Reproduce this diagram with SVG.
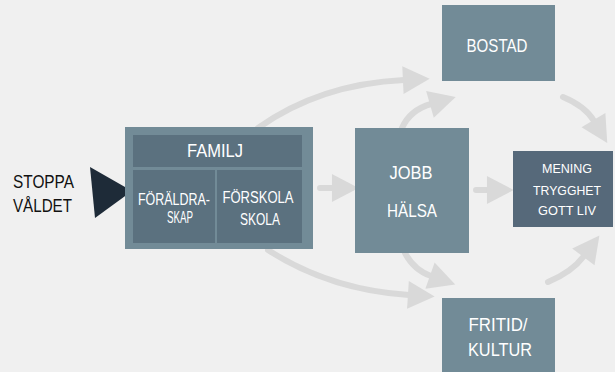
<svg xmlns="http://www.w3.org/2000/svg" width="615" height="372" viewBox="0 0 615 372">
<style>
.bg{fill:#f0f0f0}
.box{fill:#728b97}
.dark{fill:#56697a}
.inner{fill:#5b717f}
.arr{fill:none;stroke:#d9d9d9;stroke-width:6;stroke-linecap:round}
.t{font-family:"Liberation Sans","DejaVu Sans",sans-serif;fill:#ffffff;text-anchor:middle}
.tb{font-family:"Liberation Sans","DejaVu Sans",sans-serif;fill:#111111;text-anchor:start}
</style>
<defs>
<marker id="ah" markerUnits="userSpaceOnUse" markerWidth="30" markerHeight="30" viewBox="0 -14 26 28" refX="1" refY="0" orient="auto">
<path d="M0,-13 L25,0 L0,13 Z" fill="#d9d9d9"/>
</marker>
</defs>
<rect class="bg" x="0" y="0" width="615" height="372"/>
<g id="connectors">
<path class="arr" d="M258 128 Q320 84 404 80" marker-end="url(#ah)"/>
<path class="arr" d="M402 128 Q410 110 431 104" marker-end="url(#ah)"/>
<path class="arr" d="M563 97 Q585 106 594 121" marker-end="url(#ah)"/>
<path class="arr" d="M320 188 L333 188" marker-end="url(#ah)"/>
<path class="arr" d="M476 190 L488 190" marker-end="url(#ah)"/>
<path class="arr" d="M268 250 Q330 290 409 295" marker-end="url(#ah)"/>
<path class="arr" d="M405 253 Q414 270 431 276" marker-end="url(#ah)"/>
<path class="arr" d="M548 282 Q572 272 584 256" marker-end="url(#ah)"/>
</g>
<g id="stoppa">
<text class="tb" x="13" y="188" font-size="19" textLength="61" lengthAdjust="spacingAndGlyphs">STOPPA</text>
<text class="tb" x="13" y="212" font-size="19" textLength="59" lengthAdjust="spacingAndGlyphs">VÅLDET</text>
<path d="M90 167 L132 191 L95 218 Z" fill="#1e2b38"/>
</g>
<g id="familj">
<rect class="box" x="125" y="127" width="188" height="122"/>
<rect class="inner" x="133" y="135" width="169" height="32"/>
<rect class="inner" x="133" y="170" width="82" height="73"/>
<rect class="inner" x="217" y="170" width="85" height="73"/>
<text class="t" x="215" y="157" font-size="19" textLength="56" lengthAdjust="spacingAndGlyphs">FAMILJ</text>
<text class="t" x="174" y="205" font-size="16" textLength="72" lengthAdjust="spacingAndGlyphs">FÖRÄLDRA-</text>
<text class="t" x="180" y="223" font-size="16" textLength="26" lengthAdjust="spacingAndGlyphs">SKAP</text>
<text class="t" x="258" y="203" font-size="16" textLength="71" lengthAdjust="spacingAndGlyphs">FÖRSKOLA</text>
<text class="t" x="260" y="225" font-size="16" textLength="40" lengthAdjust="spacingAndGlyphs">SKOLA</text>
</g>
<g id="bostad">
<rect class="box" x="442" y="5" width="113" height="76"/>
<text class="t" x="497" y="52" font-size="19" textLength="61" lengthAdjust="spacingAndGlyphs">BOSTAD</text>
</g>
<g id="jobb">
<rect class="box" x="355" y="128" width="114" height="125"/>
<text class="t" x="411" y="179" font-size="19" textLength="43" lengthAdjust="spacingAndGlyphs">JOBB</text>
<text class="t" x="412" y="217" font-size="19" textLength="50" lengthAdjust="spacingAndGlyphs">HÄLSA</text>
</g>
<g id="mening">
<rect class="dark" x="513" y="151" width="100" height="76"/>
<text class="t" x="567" y="173" font-size="13" textLength="50" lengthAdjust="spacingAndGlyphs">MENING</text>
<text class="t" x="567" y="195" font-size="13" textLength="68" lengthAdjust="spacingAndGlyphs">TRYGGHET</text>
<text class="t" x="567" y="215" font-size="13" textLength="58" lengthAdjust="spacingAndGlyphs">GOTT LIV</text>
</g>
<g id="fritid">
<rect class="box" x="442" y="298" width="113" height="76"/>
<text class="t" x="498" y="331" font-size="19" textLength="59" lengthAdjust="spacingAndGlyphs">FRITID/</text>
<text class="t" x="500" y="356" font-size="19" textLength="64" lengthAdjust="spacingAndGlyphs">KULTUR</text>
</g>
</svg>
